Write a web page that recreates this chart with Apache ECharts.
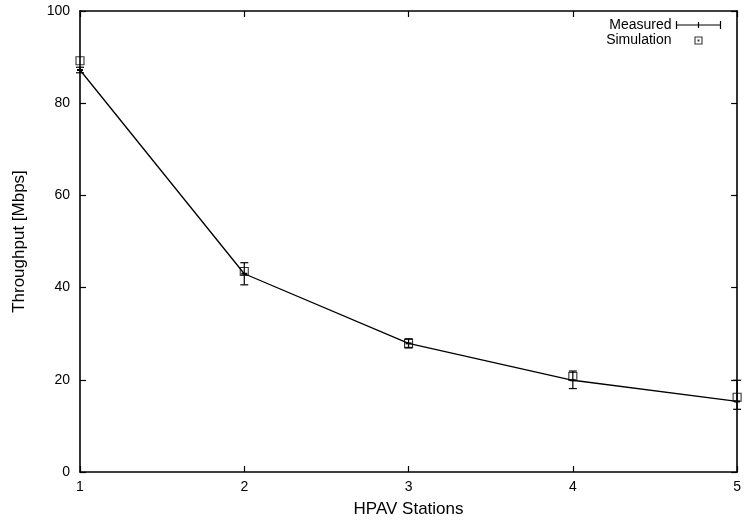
<!DOCTYPE html>
<html><head><meta charset="utf-8">
<script src="https://cdn.jsdelivr.net/npm/echarts@6/dist/echarts.min.js"></script>
<style>html,body{margin:0;padding:0;background:#fff}#c{width:744px;height:523px}</style>
</head><body><div id="c"></div>
<script>
var stations = [1, 2, 3, 4, 5];
var measured = [87.2, 43.0, 27.9, 19.9, 15.3];
var measuredLow = [86.6, 40.6, 26.9, 18.1, 13.6];
var measuredHigh = [87.8, 45.4, 28.9, 21.9, 19.9];
var simulation = [89.2, 43.5, 27.9, 20.7, 16.2];
var xTicks = [1, 2, 3, 4, 5];
var yTicks = [0, 20, 40, 60, 80, 100];

var font = 'Liberation Sans, Arial, Helvetica, sans-serif';
var chart = echarts.init(document.getElementById('c'));
var errData = stations.map(function (s, i) { return [s, measuredLow[i], measuredHigh[i], measured[i]]; });
var axisLineStyle = { color: '#000', width: 1.6 };

chart.setOption({
  animation: false,
  backgroundColor: '#fff',
  grid: { left: 80, top: 11, right: 6, bottom: 49, show: false },
  legend: {
    right: 16, top: 13, orient: 'vertical', align: 'right', itemGap: 1,
    itemWidth: 44, itemHeight: 10,
    textStyle: { fontFamily: font, fontSize: 14, color: '#000' },
    data: [
      { name: 'Measured', icon: 'path://M0,5L44,5M0,1L0,9M22,2L22,8M44,1L44,9',
        itemStyle: { color: 'none', borderColor: '#000', borderWidth: 1.2 } },
      { name: 'Simulation', icon: 'path://M0,0M44,10M18.5,1.5L25.5,1.5L25.5,8.5L18.5,8.5ZM21.6,4.6L22.4,4.6L22.4,5.4L21.6,5.4Z',
        itemStyle: { color: 'none', borderColor: '#000', borderWidth: 1.1 } }
    ]
  },
  xAxis: [{
    type: 'value', min: 1, max: 5, interval: 1,
    name: 'HPAV Stations', nameLocation: 'middle', nameGap: 29,
    nameTextStyle: { fontFamily: font, fontSize: 17, color: '#000' },
    axisLine: { show: true, onZero: false, lineStyle: axisLineStyle },
    axisTick: { show: true, inside: true, length: 6, lineStyle: { color: '#000', width: 1.2 } },
    axisLabel: { fontFamily: font, fontSize: 14, color: '#000', margin: 8,
      customValues: xTicks },
    splitLine: { show: false }
  }, {
    type: 'value', min: 1, max: 5, interval: 1, position: 'top',
    axisLine: { show: true, onZero: false, lineStyle: axisLineStyle },
    axisTick: { show: true, inside: true, length: 6, lineStyle: { color: '#000', width: 1.2 } },
    axisLabel: { show: false }, splitLine: { show: false }
  }],
  yAxis: [{
    type: 'value', min: 0, max: 100, interval: 20,
    name: 'Throughput [Mbps]', nameLocation: 'middle', nameGap: 52, nameRotate: 90,
    nameTextStyle: { fontFamily: font, fontSize: 17, color: '#000' },
    axisLine: { show: true, onZero: false, lineStyle: axisLineStyle },
    axisTick: { show: true, inside: true, length: 6, lineStyle: { color: '#000', width: 1.2 } },
    axisLabel: { fontFamily: font, fontSize: 14, color: '#000', margin: 10,
      customValues: yTicks },
    splitLine: { show: false }
  }, {
    type: 'value', min: 0, max: 100, interval: 20, position: 'right',
    axisLine: { show: true, onZero: false, lineStyle: axisLineStyle },
    axisTick: { show: true, inside: true, length: 6, lineStyle: { color: '#000', width: 1.2 } },
    axisLabel: { show: false }, splitLine: { show: false }
  }],
  series: [{
    type: 'line', name: 'MeasuredLine', data: stations.map(function (s, i) { return [s, measured[i]]; }),
    symbol: 'none', lineStyle: { color: '#000', width: 1.3 }, z: 2
  }, {
    type: 'custom', name: 'Measured', data: errData, z: 3,
    itemStyle: { color: '#000' },
    renderItem: function (params, api) {
      var x = api.value(0);
      var lo = api.coord([x, api.value(1)]);
      var hi = api.coord([x, api.value(2)]);
      var mid = api.coord([x, api.value(3)]);
      var st = { stroke: '#000', lineWidth: 1.2 };
      return { type: 'group', children: [
        { type: 'line', shape: { x1: lo[0], y1: lo[1], x2: hi[0], y2: hi[1] }, style: st },
        { type: 'line', shape: { x1: lo[0] - 4, y1: lo[1], x2: lo[0] + 4, y2: lo[1] }, style: st },
        { type: 'line', shape: { x1: hi[0] - 4, y1: hi[1], x2: hi[0] + 4, y2: hi[1] }, style: st },
        { type: 'line', shape: { x1: mid[0] - 3, y1: mid[1], x2: mid[0] + 3, y2: mid[1] }, style: { stroke: '#000', lineWidth: 2 } }
      ] };
    }
  }, {
    type: 'scatter', name: 'Simulation', data: stations.map(function (s, i) { return [s, simulation[i]]; }),
    symbol: 'rect', symbolSize: 8, z: 4,
    itemStyle: { color: 'rgba(0,0,0,0)', borderColor: '#000', borderWidth: 1.1 }
  }]
});
</script></body></html>
